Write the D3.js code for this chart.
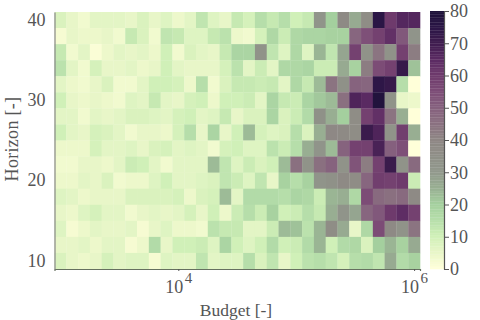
<!DOCTYPE html>
<html>
<head>
<meta charset="utf-8">
<script src="https://cdn.jsdelivr.net/npm/d3@7"></script>
<style>
body{margin:0;background:#fff;}
text{font-family:"Liberation Serif",serif;fill:#555;}
</style>
</head>
<body>
<script>
//DATA VARIABLES
var horizons=[40,38,36,34,32,30,28,26,24,22,20,18,16,14,12,10];
var budgetExps=[3.0,3.1,3.2,3.3,3.4,3.5,3.6,3.7,3.8,3.9,4.0,4.1,4.2,4.3,4.4,4.5,4.6,4.7,4.8,4.9,5.0,5.1,5.2,5.3,5.4,5.5,5.6,5.7,5.8,5.9,6.0];
var h40=[8,5,3,6,6,6,5,8,5,7,4,6,13,7,5,12,9,15,12,15,10,12,32,20,38,26,36,75,60,66,66];
var h38=[2,5,4,4,5,3,12,8,3,13,12,7,7,12,14,4,3,9,17,11,17,18,18,19,19,48,54,58,63,52,32];
var h36=[12,3,6,1,4,6,5,6,4,10,3,8,6,5,12,18,18,33,13,7,17,7,24,13,27,58,33,44,33,58,42];
var h34=[14,6,3,9,5,5,6,4,5,10,6,5,5,5,9,14,6,11,6,17,17,18,11,11,26,19,42,55,58,72,22];
var h32=[6,4,3,5,8,3,3,6,10,10,9,4,15,3,8,12,12,11,12,6,17,12,23,44,34,49,48,74,72,15,0];
var h30=[10,5,4,5,4,3,7,6,12,6,5,9,10,4,10,10,11,6,18,12,11,18,21,23,45,67,65,78,33,5,4];
var h28=[6,6,3,6,5,6,8,8,7,6,9,10,6,7,12,5,8,8,18,8,11,16,34,25,20,36,58,63,44,25,0];
var h26=[10,6,5,9,8,6,3,5,5,4,9,15,5,18,5,10,23,9,7,8,15,8,25,39,38,36,71,67,33,59,25];
var h24=[4,4,4,9,6,6,7,5,8,9,6,7,6,3,9,10,7,7,14,11,15,25,32,23,49,58,58,68,50,54,0];
var h22=[3,3,5,5,4,6,11,10,6,3,6,6,6,23,13,7,11,8,10,23,45,33,45,49,33,53,42,58,71,33,47];
var h20=[4,4,6,5,8,3,4,4,7,10,6,6,7,8,13,11,7,13,5,19,15,19,32,34,38,36,48,59,58,60,11];
var h18=[7,6,4,5,5,5,8,8,8,8,9,4,8,9,23,6,16,16,16,15,18,17,11,24,25,17,55,47,45,47,38];
var h16=[5,4,7,9,6,6,3,5,6,5,6,9,5,10,4,11,15,11,19,10,11,15,12,25,32,27,48,52,60,64,58];
var h14=[7,2,4,6,5,5,6,2,5,7,4,4,3,14,12,12,6,6,11,23,22,14,24,36,26,5,17,55,38,33,44];
var h12=[5,5,6,4,6,6,2,4,16,5,10,10,11,7,18,10,7,10,16,10,11,16,24,10,16,17,8,20,24,19,26];
var h10=[8,5,4,5,9,6,7,7,2,7,6,6,13,6,7,7,15,8,13,5,10,14,15,13,9,15,16,13,26,16,19];
var rows=[h40,h38,h36,h34,h32,h30,h28,h26,h24,h22,h20,h18,h16,h14,h12,h10];

//COLOR VARIABLES
var colorValues=[0,5,10,15,20,25,30,35,40,45,50,55,60,65,70,75,80];
var colorHexes=["#ffffd9","#e8f6c8","#d0f0b8","#b6deaa","#a4cf9e","#98ae92","#91988c","#8f8f87","#8e8684","#8a7080","#85607e","#7c4c76","#6e3a6c","#5a2a62","#3e1c4e","#2a1545","#1c1138"];

//SVG VARIABLES
var width=480;
var height=320;
var svg=d3.select("body").append("svg")
	.attr("width",width)
	.attr("height",height)
	.style("display","block");

var left=54.5, right=420, top_=12, bottom=269;
var barLeft=430, barRight=444;

//half a cell on each side of the first and last budget
var x=d3.scaleLog().domain([Math.pow(10,2.95),Math.pow(10,6.05)]).range([left,right]);
var y=d3.scaleBand().domain(horizons).range([top_,bottom]);
var color=d3.scaleLinear().domain(colorValues).range(colorHexes).interpolate(d3.interpolateRgb).clamp(true);
var barY=d3.scaleLinear().domain([0,80]).range([bottom,top_-1]);

//HEATMAP
var cells=svg.append("g").attr("id","cells");
rows.forEach(function(row,r){
	cells.selectAll("rect.r"+r)
		.data(row)
		.enter()
		.append("rect")
		.attr("class","r"+r)
		.attr("x",function(d,i){return x(Math.pow(10,budgetExps[i]-0.05));})
		.attr("y",y(horizons[r]))
		.attr("width",function(d,i){return x(Math.pow(10,budgetExps[i]+0.05))-x(Math.pow(10,budgetExps[i]-0.05))+0.3;})
		.attr("height",y.bandwidth()+0.3)
		.attr("fill",function(d){return color(d);});
});

//AXES
var xAxis=svg.append("g")
	.attr("transform","translate(0,"+bottom+")")
	.call(d3.axisBottom(x).tickValues([1e4,1e6]).tickSize(2).tickFormat(function(){return "";}));
xAxis.selectAll("text").remove();
xAxis.select(".domain").attr("stroke","#667060").attr("stroke-width",1.2);
xAxis.selectAll("line").attr("stroke","#555");
xAxis.selectAll(".tick").append("text")
	.attr("text-anchor","start")
	.attr("x",-13.5)
	.attr("y",24)
	.attr("font-size",18)
	.each(function(d){
		var t=d3.select(this);
		t.append("tspan").text("10");
		t.append("tspan").attr("dx",1.5).attr("dy",-10).attr("font-size",15).text(Math.round(Math.log10(d)));
	});

var yAxis=svg.append("g")
	.attr("transform","translate("+left+",0)")
	.call(d3.axisLeft(y).tickValues([10,20,30,40]).tickSize(0).tickPadding(9));
yAxis.select(".domain").attr("stroke","#888").attr("stroke-width",1.2);
yAxis.selectAll("text").attr("font-size",18).attr("font-family",null);

svg.append("text").attr("x",236).attr("y",316).attr("text-anchor","middle").attr("font-size",17.5).text("Budget [-]");
svg.append("text").attr("transform","translate(18,139) rotate(-90)").attr("text-anchor","middle").attr("font-size",18).attr("letter-spacing",0.3).text("Horizon [-]");

//COLORBAR
var bar=svg.append("g").attr("id","colorbar");
bar.selectAll("rect")
	.data(d3.range(0,80,0.5))
	.enter()
	.append("rect")
	.attr("x",barLeft)
	.attr("width",barRight-barLeft)
	.attr("y",function(d){return barY(d+0.5);})
	.attr("height",function(d){return barY(d)-barY(d+0.5)+0.3;})
	.attr("fill",function(d){return color(d);});
var barAxis=svg.append("g")
	.attr("transform","translate("+barRight+",0)")
	.call(d3.axisRight(barY).tickValues([0,10,20,30,40,50,60,70,80]).tickSize(5).tickSizeOuter(0).tickPadding(1));
barAxis.select(".domain").attr("stroke","#555").attr("stroke-width",1.2);
barAxis.selectAll("line").attr("stroke","#555");
barAxis.selectAll("text").attr("font-size",18).attr("font-family",null);
</script>
</body>
</html>
